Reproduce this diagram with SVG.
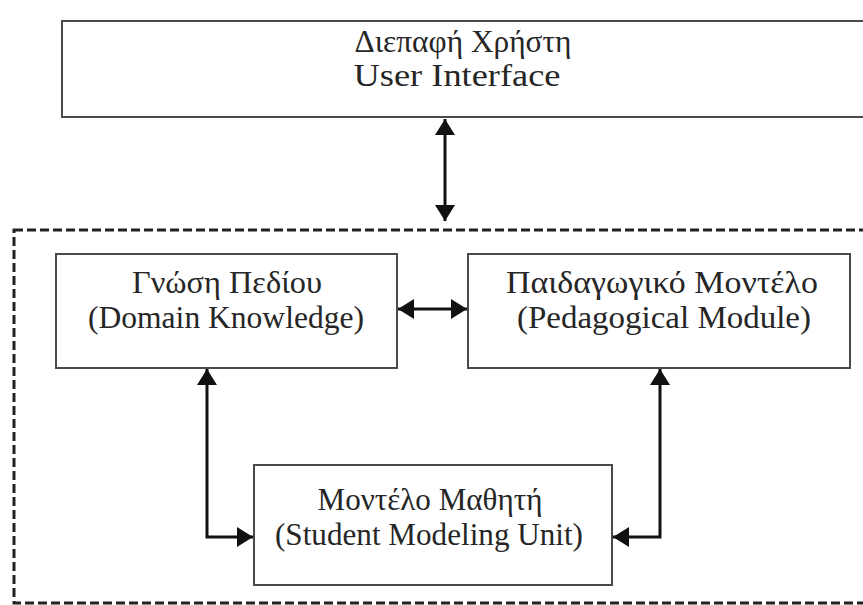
<svg xmlns="http://www.w3.org/2000/svg" width="863" height="605" viewBox="0 0 863 605">
<style>
.box{fill:#fff;stroke:#4a4a4a;stroke-width:2}
.lbl{font-family:'Liberation Serif', 'Times New Roman', Times, serif;font-size:31px;fill:#262626;text-anchor:middle}
.con{fill:none;stroke:#111;stroke-width:3}
</style>
<defs>
<marker id="ah" viewBox="0 0 16 20" refX="16" refY="10" markerWidth="16" markerHeight="20" markerUnits="userSpaceOnUse" orient="auto-start-reverse">
<path d="M0,0 L16,10 L0,20 z" fill="#111"/>
</marker>
</defs>
<rect width="863" height="605" fill="#fff"/>
<g id="system">
<rect x="14" y="230" width="870" height="373" fill="none" stroke="#222" stroke-width="3" stroke-dasharray="9 4"/>
</g>
<g id="user-interface">
<rect class="box" x="62" y="21" width="830" height="96"/>
<text class="lbl" x="463" y="52" textLength="217" lengthAdjust="spacingAndGlyphs">Διεπαφή Χρήστη</text>
<text class="lbl" x="457" y="86" textLength="207" lengthAdjust="spacingAndGlyphs">User Interface</text>
</g>
<g id="domain-knowledge">
<rect class="box" x="56" y="254" width="341" height="114"/>
<text class="lbl" x="227" y="293" textLength="190" lengthAdjust="spacingAndGlyphs">Γνώση Πεδίου</text>
<text class="lbl" x="226" y="328" textLength="276" lengthAdjust="spacingAndGlyphs">(Domain Knowledge)</text>
</g>
<g id="pedagogical-module">
<rect class="box" x="468" y="254" width="382" height="114"/>
<text class="lbl" x="662" y="293" textLength="312" lengthAdjust="spacingAndGlyphs">Παιδαγωγικό Μοντέλο</text>
<text class="lbl" x="664" y="328" textLength="294" lengthAdjust="spacingAndGlyphs">(Pedagogical Module)</text>
</g>
<g id="student-model">
<rect class="box" x="254" y="465" width="358" height="120"/>
<text class="lbl" x="430" y="510" textLength="225" lengthAdjust="spacingAndGlyphs">Μοντέλο Μαθητή</text>
<text class="lbl" x="429" y="545" textLength="308" lengthAdjust="spacingAndGlyphs">(Student Modeling Unit)</text>
</g>
<g id="connectors">
<path class="con" d="M445,119 L445,221" marker-start="url(#ah)" marker-end="url(#ah)"/>
<path class="con" d="M398,309 L467,309" marker-start="url(#ah)" marker-end="url(#ah)"/>
<path class="con" d="M207,369 L207,537 L253,537" marker-start="url(#ah)" marker-end="url(#ah)"/>
<path class="con" d="M660,369 L660,537 L613,537" marker-start="url(#ah)" marker-end="url(#ah)"/>
</g>
</svg>
